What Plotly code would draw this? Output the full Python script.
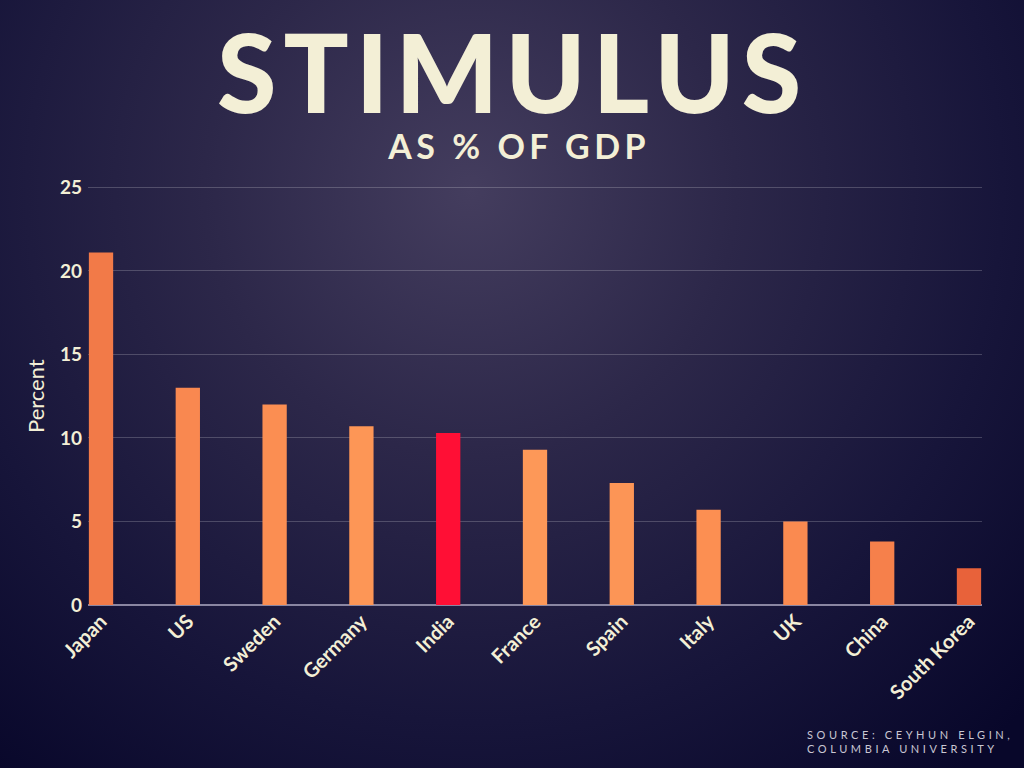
import base64
import plotly.graph_objects as go

# Stimulus as % of GDP
countries = ["Japan", "US", "Sweden", "Germany", "India", "France",
             "Spain", "Italy", "UK", "China", "South Korea"]
stimulus = [21.1, 13.0, 12.0, 10.7, 10.3, 9.3, 7.3, 5.7, 5.0, 3.8, 2.2]
bar_colors = ["#f27a48", "#f98850", "#fb8e52", "#fd9656", "#ff0f35", "#fd9858",
              "#fc9556", "#fc8f52", "#fa8a50", "#f6804b", "#e8623a"]
y_ticks = [0, 5, 10, 15, 20, 25]

W, H = 1024, 768
L, R, T, B = 88, 42, 184, 163
pw, ph = W - L - R, H - T - B

cream = "#f3efd6"

# background: dark navy radial glow, drawn as an svg image behind everything
bg_svg = """<svg xmlns='http://www.w3.org/2000/svg' width='1024' height='768'>
<defs><radialGradient id='g' cx='470' cy='190' r='760' gradientUnits='userSpaceOnUse'>
<stop offset='0' stop-color='#443d5e'/>
<stop offset='0.35' stop-color='#2c2749'/>
<stop offset='0.7' stop-color='#17153a'/>
<stop offset='1' stop-color='#08072a'/>
</radialGradient></defs>
<rect width='1024' height='768' fill='url(#g)'/></svg>"""
bg_src = "data:image/svg+xml;base64," + base64.b64encode(bg_svg.encode()).decode()


def px(x):
    return (x - L) / pw


def py(y):
    return (H - B - y) / ph


fig = go.Figure()
fig.add_trace(go.Bar(
    x=countries, y=stimulus,
    marker=dict(color=bar_colors, line=dict(width=0)),
    width=0.28,
    hoverinfo="x+y",
))

fig.add_layout_image(dict(
    source=bg_src, xref="paper", yref="paper",
    x=px(0), y=py(0), sizex=W / pw, sizey=H / ph,
    xanchor="left", yanchor="top", sizing="stretch", layer="below",
))

fig.add_annotation(text="<b>STIMULUS</b>", xref="paper", yref="paper",
                   x=px(512), y=py(71), showarrow=False,
                   xanchor="center", yanchor="middle",
                   font=dict(family="Lato Black, Lato Heavy, Lato", size=108, color=cream))
fig.add_annotation(text="<b>AS % OF GDP</b>", xref="paper", yref="paper",
                   x=px(518), y=py(146), showarrow=False,
                   xanchor="center", yanchor="middle",
                   font=dict(family="Lato", size=34, color=cream))
fig.add_annotation(text="SOURCE: CEYHUN ELGIN,<br>COLUMBIA UNIVERSITY",
                   xref="paper", yref="paper", align="left",
                   x=px(805), y=py(741), showarrow=False,
                   xanchor="left", yanchor="middle",
                   font=dict(family="Lato", size=11, color="#c9c7d3"))
fig.add_annotation(text="Percent", xref="paper", yref="paper",
                   x=px(35), y=py(396), showarrow=False, textangle=-90,
                   xanchor="center", yanchor="middle",
                   font=dict(family="Lato", size=22, color=cream))

fig.update_layout(
    width=W, height=H,
    margin=dict(l=L, r=R, t=T, b=B, pad=0),
    paper_bgcolor="#1a1838",
    plot_bgcolor="rgba(0,0,0,0)",
    showlegend=False,
    font=dict(family="Lato", color=cream),
)
fig.update_xaxes(
    range=[-0.15, 10.15], tickangle=-45, showgrid=False,
    showline=False, ticks="",
    tickfont=dict(family="Lato", size=20, color=cream, weight="bold"),
)
fig.update_yaxes(
    range=[0, 25.2], tickvals=y_ticks, showgrid=True,
    gridcolor="rgba(255,255,255,0.2)", gridwidth=1,
    zeroline=True, zerolinecolor="#8a86a2", zerolinewidth=2,
    ticks="", ticklabelstandoff=5,
    tickfont=dict(family="Lato", size=19, color=cream, weight="bold"),
)

# plotly has no letter-spacing option, so spread the heading letters after drawing;
# also drop the page margin so the 1024x768 figure fills the window
spacing_js = """
document.body.style.margin = '0';
var gd = document.getElementById('{plot_id}');
var sp = {'0': '7px', '1': '4.5px', '2': '3.6px'};
gd.querySelectorAll('g.annotation').forEach(function(g) {
  var i = g.getAttribute('data-index');
  if (sp[i]) {
    g.querySelectorAll('text').forEach(function(t) { t.style.letterSpacing = sp[i]; });
  }
});
"""

fig.write_html("out.html", post_script=spacing_js,
               config={"displayModeBar": False})
